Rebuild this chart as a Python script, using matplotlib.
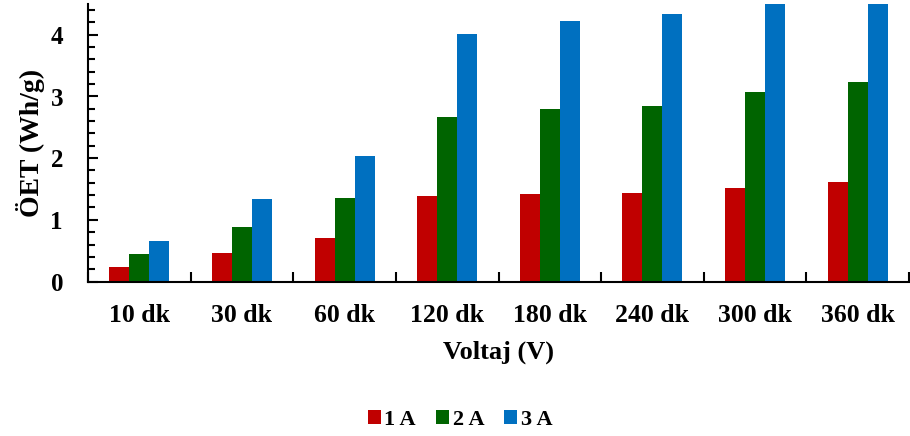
import matplotlib
matplotlib.use("Agg")
import matplotlib.pyplot as plt
import numpy as np
from matplotlib.ticker import MultipleLocator, FixedLocator

plt.rcParams['font.family'] = ['Liberation Serif', 'DejaVu Serif']
plt.rcParams['font.weight'] = 'bold'

categories = ["10 dk", "30 dk", "60 dk", "120 dk", "180 dk", "240 dk", "300 dk", "360 dk"]
series_names = ["1 A", "2 A", "3 A"]
vals_1A = [0.24, 0.47, 0.70, 1.38, 1.42, 1.43, 1.51, 1.61]
vals_2A = [0.44, 0.89, 1.35, 2.67, 2.79, 2.85, 3.08, 3.23]
vals_3A = [0.66, 1.34, 2.03, 4.02, 4.22, 4.33, 4.58, 4.66]
colors = ["#C00000", "#006400", "#0070C0"]

fig = plt.figure(figsize=(9.10, 4.36), dpi=100)
ax = fig.add_axes([88/910, 1 - 281.5/436, (909-88)/910, (281.5-4)/436])

x = np.arange(len(categories))
w = 0.195
for i, (vals, name, c) in enumerate(zip([vals_1A, vals_2A, vals_3A], series_names, colors)):
    ax.bar(x + (i - 1) * w, vals, width=w, color=c, label=name, zorder=2)

ax.set_xlim(-0.5, len(categories) - 0.5)
ax.set_ylim(0, 4.5)

ax.spines['top'].set_visible(False)
ax.spines['right'].set_visible(False)
for s in ('left', 'bottom'):
    ax.spines[s].set_linewidth(1.5)
    ax.spines[s].set_zorder(3)

ax.yaxis.set_major_locator(MultipleLocator(1))
ax.yaxis.set_minor_locator(MultipleLocator(0.2))
ax.tick_params(axis='y', which='both', direction='in', width=1.5, labelsize=18, pad=18)
ax.tick_params(axis='y', which='major', length=7)
ax.tick_params(axis='y', which='minor', length=5)

# group boundaries carry the long ticks, group centres the short labelled ones
ax.set_xticks(x)
ax.set_xticklabels(categories)
ax.xaxis.set_minor_locator(FixedLocator(np.arange(len(categories) + 1) - 0.5))
ax.tick_params(axis='x', which='major', direction='in', length=5, width=1.5, labelsize=18.5, pad=16)
ax.tick_params(axis='x', which='minor', direction='in', length=7, width=1.5)

for lab in ax.get_xticklabels() + ax.get_yticklabels():
    lab.set_fontweight('bold')

ax.set_ylabel("ÖET (Wh/g)", fontsize=20, fontweight='bold', labelpad=4)
ax.set_xlabel("Voltaj (V)", fontsize=19, fontweight='bold', labelpad=10)

fig.legend(loc='center', bbox_to_anchor=(460/910, 1 - 420/436), ncol=3, frameon=False,
           prop={'size': 16, 'weight': 'bold'}, handlelength=0.6, handleheight=0.6,
           handletextpad=0.15, columnspacing=0.9)

fig.savefig("out.png", dpi=100)
